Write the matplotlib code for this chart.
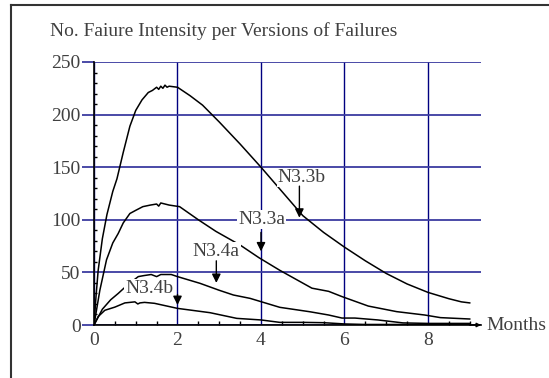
import matplotlib
matplotlib.use("Agg")
import matplotlib.pyplot as plt
from matplotlib.lines import Line2D
from matplotlib.ticker import MultipleLocator

# Donnees (mois, intensite)
months_33b = [0, 0.05, 0.1, 0.2, 0.31, 0.45, 0.55, 0.7, 0.86, 1.0, 1.15, 1.3, 1.4, 1.5, 1.55,
              1.6, 1.65, 1.7, 1.75, 1.8, 2.0, 2.3, 2.6, 3.0, 3.5, 4.0, 4.5, 5.0, 5.5, 6.0,
              6.5, 7.0, 7.5, 8.0, 8.5, 8.8, 9.0]
fails_33b = [0, 28, 52, 82, 105, 127, 139, 164, 189, 204, 214, 221, 223, 226, 224,
             227, 225, 228, 226, 227, 226, 218, 209, 193, 172, 150, 127, 104, 88, 74,
             61, 49, 39, 31, 25, 22, 21]

months_33a = [0, 0.14, 0.3, 0.45, 0.58, 0.7, 0.86, 1.0, 1.17, 1.35, 1.5, 1.55, 1.6, 1.8,
              2.05, 2.5, 2.92, 3.5, 3.95, 4.45, 5.22, 5.62, 5.94, 6.57, 7.25, 7.92, 8.3, 9.0]
fails_33a = [0, 33, 62, 78, 87, 97, 106, 109, 112.5, 114, 115, 113, 116, 114,
             112.5, 100, 89, 76, 64, 52, 35, 32, 27, 18, 12.7, 9.5, 7, 5.7]

months_34a = [0, 0.2, 0.4, 0.58, 0.8, 1.06, 1.2, 1.37, 1.5, 1.6, 1.85, 2.0, 2.54, 3.0,
              3.34, 3.74, 4.45, 5.17, 5.62, 5.94, 6.25, 6.8, 7.4, 8.0, 9.0]
fails_34a = [0, 15, 24, 30, 38, 46, 47, 48, 46, 48, 48, 46, 39.6, 33,
             28.5, 25.3, 16.8, 12.6, 9.5, 6.6, 6.6, 4.8, 2, 1.5, 1.5]

months_34b = [0, 0.1, 0.26, 0.5, 0.74, 0.98, 1.05, 1.1, 1.21, 1.45, 2.0, 2.78, 3.42, 4.0,
              4.45, 5.0, 5.5, 6.0, 6.5, 9.0]
fails_34b = [0, 8, 14, 17, 21, 22, 20, 21, 21.5, 20.6, 15.8, 11.7, 6.3, 4.8,
             2.5, 2.5, 2.2, 1, 0.5, 0.5]

# Etiquettes : (texte, position du texte, pointe de la fleche, depart de la fleche)
labels = ["N3.3b", "N3.3a", "N3.4a", "N3.4b"]
label_pos = [(4.98, 140), (4.02, 100), (2.93, 70), (1.33, 35)]
arrow_tip = [(4.92, 102), (4.0, 70), (2.93, 40), (2.0, 19)]
arrow_tail = [(4.92, 132), (4.0, 88), (2.93, 61), (2.0, 29)]

text_color = "#404040"
grid_color = "#3c3ca0"
fs = 14

plt.rcParams["font.family"] = ["Liberation Serif", "DejaVu Serif"]
plt.rcParams["font.size"] = fs

fig = plt.figure(figsize=(5.49, 3.78), dpi=100)
ax = fig.add_axes([94 / 549, 1 - 325 / 378, 387 / 549, 263 / 378])

# Cadre exterieur
fig.add_artist(Line2D([10.5 / 549, 10.5 / 549], [0, 1 - 5 / 378], transform=fig.transFigure,
                      color="#333333", lw=1.5))
fig.add_artist(Line2D([10.5 / 549, 1], [1 - 5 / 378, 1 - 5 / 378], transform=fig.transFigure,
                      color="#333333", lw=1.5))

for m, f in [(months_33b, fails_33b), (months_33a, fails_33a),
             (months_34a, fails_34a), (months_34b, fails_34b)]:
    ax.plot(m, f, color="black", lw=1.1, zorder=3)

for lab, pos, tip, tail in zip(labels, label_pos, arrow_tip, arrow_tail):
    ax.text(pos[0], pos[1], lab, ha="center", va="center", color=text_color, fontsize=fs,
            zorder=4, bbox=dict(fc="white", ec="none", pad=0.8))
    ax.annotate("", xy=tip, xytext=tail, zorder=5,
                arrowprops=dict(arrowstyle="-|>", color="black", lw=1, mutation_scale=13,
                                shrinkA=0, shrinkB=0))

ax.set_xlim(0, 9.27)
ax.set_ylim(0, 250)
ax.set_xticks([0, 2, 4, 6, 8])
ax.set_yticks([0, 50, 100, 150, 200, 250])
ax.xaxis.set_minor_locator(MultipleLocator(0.5))
ax.yaxis.set_minor_locator(MultipleLocator(10))

ax.grid(True, axis="x", color="#000080", lw=1, zorder=1)
ax.grid(True, axis="y", color=grid_color, lw=1.3, zorder=1)
ax.set_axisbelow(True)

ax.tick_params(axis="y", which="major", direction="out", length=8.6, width=1.3,
               color=grid_color, pad=1, labelcolor=text_color, labelsize=fs)
ax.tick_params(axis="y", which="minor", direction="in", length=2, width=1, color="black")
ax.tick_params(axis="x", which="major", length=0, pad=5, labelcolor=text_color, labelsize=fs)
ax.tick_params(axis="x", which="minor", direction="in", length=3, width=1, color="black")

for s in ["top", "right"]:
    ax.spines[s].set_visible(False)
for s in ["left", "bottom"]:
    ax.spines[s].set_color("black")
    ax.spines[s].set_linewidth(1.2)
    ax.spines[s].set_zorder(3)

# Fleche de l'axe des mois
ax.annotate("", xy=(1.0, 0), xytext=(0.97, 0), xycoords="axes fraction",
            arrowprops=dict(arrowstyle="-|>", color="black", lw=1, mutation_scale=6,
                            shrinkA=0, shrinkB=0))
ax.text(1.015, 0, "Months", transform=ax.transAxes, ha="left", va="center",
        color=text_color, fontsize=fs)

fig.text(50 / 549, 1 - 31 / 378, "No. Faiure Intensity per Versions of Failures",
         ha="left", va="center", color=text_color, fontsize=fs)

fig.savefig("out.png", dpi=100)
